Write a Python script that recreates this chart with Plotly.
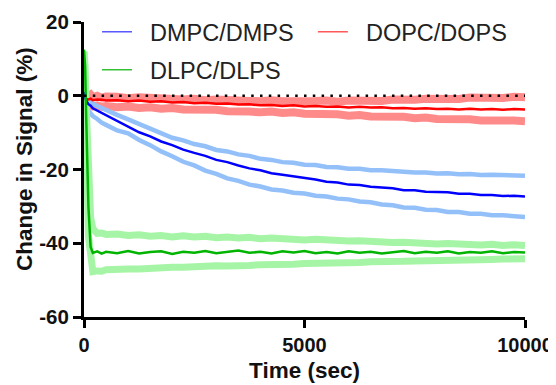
import plotly.graph_objects as go

time_s = [0, 25, 50, 100, 150, 200, 300, 400, 500, 750, 1000, 1250, 1500, 1750, 2000, 2250, 2500, 2750,
          3000, 3250, 3500, 3750, 4000, 4250, 4500, 4750, 5000, 5250, 5500, 5750, 6000, 6250, 6500, 6750,
          7000, 7250, 7500, 7750, 8000, 8250, 8500, 8750, 9000, 9250, 9500, 9750, 10000]

dmpc_mean = [1.0, -0.5, -1.3, -2.3, -2.7, -3.4, -4.0, -4.6, -5.4, -6.9, -8.2, -9.9, -11.0, -12.4, -13.4, -14.6,
             -15.5, -16.3, -17.4, -18.0, -18.9, -19.7, -20.2, -21.0, -21.4, -21.8, -22.4, -22.7, -23.3, -23.5,
             -24.1, -24.2, -24.7, -24.9, -25.1, -25.6, -25.6, -26.0, -26.1, -26.2, -26.6, -26.6, -26.9, -26.9,
             -27.2, -27.1, -27.3]
dmpc_upper = [3.0, 0.6, -0.6, -1.2, -1.8, -2.2, -2.8, -3.4, -3.9, -5.2, -6.4, -7.6, -9.1, -10.1, -11.4, -12.1,
              -13.1, -13.7, -14.7, -15.1, -15.9, -16.3, -17.1, -17.4, -18.0, -18.2, -18.7, -18.8, -19.3, -19.4,
              -19.8, -19.8, -20.2, -20.2, -20.5, -20.5, -20.8, -20.8, -21.1, -21.0, -21.3, -21.2, -21.5, -21.4,
              -21.6, -21.5, -21.7]
dmpc_lower = [0.0, -2.1, -2.9, -4.1, -4.8, -5.5, -6.3, -7.3, -7.9, -9.4, -10.2, -12.0, -13.4, -15.1, -16.4, -17.9,
              -18.9, -20.3, -21.2, -22.4, -23.1, -24.1, -24.6, -25.4, -25.7, -26.3, -26.5, -27.1, -27.3, -27.9,
              -28.1, -28.7, -28.9, -29.5, -29.7, -30.3, -30.4, -30.9, -31.0, -31.5, -31.5, -32.0, -32.0, -32.4,
              -32.4, -32.8, -32.9]

dopc_mean = [0.5, -0.4, -0.9, -1.0, -0.8, -1.2, -1.0, -1.1, -1.3, -1.2, -1.5, -1.3, -1.6, -1.5, -1.8, -1.7,
             -2.0, -1.9, -2.2, -2.1, -2.4, -2.3, -2.6, -2.5, -2.8, -2.6, -2.9, -2.8, -3.0, -2.9, -3.2, -3.0,
             -3.2, -3.1, -3.4, -3.3, -3.5, -3.4, -3.6, -3.5, -3.7, -3.5, -3.7, -3.6, -3.8, -3.6, -3.7]
dopc_upper = [1.5, 0.6, 0.2, -0.1, 0.3, -0.4, 0.0, -0.5, -0.2, -0.3, -0.7, -0.4, -0.6, -0.9, -0.7, -1.0,
              -0.8, -1.2, -1.0, -1.3, -1.1, -1.4, -1.5, -1.2, -1.5, -1.3, -1.6, -1.4, -1.3, -1.6, -1.3, -1.5,
              -1.2, -1.4, -1.0, -1.2, -1.1, -0.8, -1.0, -0.7, -0.9, -0.5, -0.7, -0.4, -0.6, -0.3, -0.4]
dopc_lower = [0.5, -1.2, -2.0, -2.6, -2.4, -2.9, -2.6, -3.0, -2.8, -3.1, -2.9, -3.3, -3.1, -3.5, -3.3, -3.7,
              -3.6, -3.9, -3.8, -4.2, -4.0, -4.3, -4.5, -4.3, -4.7, -4.5, -4.9, -4.8, -5.1, -5.0, -5.4, -5.2,
              -5.6, -5.5, -5.8, -5.7, -6.1, -5.9, -6.3, -6.2, -6.5, -6.4, -6.7, -6.6, -6.9, -6.7, -6.9]

dlpc_mean = [12.5, 8.0, -6.0, -30.0, -41.0, -42.6, -42.2, -42.8, -42.3, -42.7, -42.1, -42.8, -42.4, -42.2, -42.9,
             -42.3, -42.6, -42.1, -42.7, -42.4, -42.0, -42.6, -42.3, -42.8, -42.2, -42.5, -42.1, -42.7, -42.4,
             -42.8, -42.2, -42.6, -42.3, -42.8, -42.4, -42.1, -42.7, -42.3, -42.6, -42.2, -42.8, -42.4, -42.6,
             -42.2, -42.7, -42.4, -42.5]
dlpc_upper = [12.0, 8.0, -3.0, -25.0, -33.0, -36.0, -37.3, -37.2, -37.6, -37.5, -37.9, -37.7, -38.1, -37.9, -38.3,
              -38.0, -38.3, -38.1, -38.5, -38.3, -38.6, -38.4, -38.8, -38.6, -38.9, -38.8, -39.1, -38.9, -39.2,
              -39.1, -39.4, -39.3, -39.6, -39.5, -39.8, -39.7, -40.0, -39.9, -40.2, -40.1, -40.3, -40.2, -40.5,
              -40.3, -40.6, -40.4, -40.6]
dlpc_lower = [12.0, 5.0, -12.0, -38.0, -46.0, -47.7, -47.5, -47.6, -47.2, -47.3, -47.0, -47.0, -46.7, -46.8, -46.5,
              -46.5, -46.3, -46.4, -46.1, -46.2, -45.9, -46.0, -45.8, -45.9, -45.6, -45.7, -45.5, -45.5, -45.3,
              -45.4, -45.2, -45.2, -45.0, -45.1, -44.9, -44.9, -44.8, -44.8, -44.6, -44.7, -44.5, -44.5, -44.4,
              -44.4, -44.3, -44.3, -44.2]

baseline_x = [0, 10000]
baseline_y = [0, 0]

series_names = ["DMPC/DMPS", "DOPC/DOPS", "DLPC/DLPS"]
x_ticks = [0, 5000, 10000]
y_ticks = [-60, -40, -20, 0, 20]

LIGHT_BLUE = "#94C0FA"
LIGHT_RED = "#FF8A8A"
LIGHT_GREEN = "#A6F5A6"

fig = go.Figure()

def band(y, color, width):
    fig.add_trace(go.Scatter(x=time_s, y=y, mode="lines", line=dict(color=color, width=width),
                             showlegend=False, hoverinfo="skip"))

band(dopc_upper, LIGHT_RED, 8)
band(dopc_lower, LIGHT_RED, 8)
band(dmpc_upper, LIGHT_BLUE, 4.5)
band(dmpc_lower, LIGHT_BLUE, 4.5)
band(dlpc_upper, LIGHT_GREEN, 7)
band(dlpc_lower, LIGHT_GREEN, 7)
band(dopc_mean, "#FF0000", 2.5)
band(dmpc_mean, "#0000FF", 2.5)
band(dlpc_mean, "#00B400", 2.5)

fig.add_trace(go.Scatter(x=baseline_x, y=baseline_y, mode="lines",
                         line=dict(color="black", width=2.5, dash="2.5px,6.3px"),
                         showlegend=False, hoverinfo="skip"))

legend_colors = ["#5A5AFF", "#FF5A5A", "#33C033"]
legend_ids = ["legend", "legend2", "legend3"]
for name, col, lid in zip(series_names, legend_colors, legend_ids):
    fig.add_trace(go.Scatter(x=[None], y=[None], mode="lines", name="\u00a0\u00a0" + name,
                             line=dict(color=col, width=1.5), legend=lid))

FONT = "Arial, Liberation Sans, sans-serif"
leg_common = dict(font=dict(family=FONT, size=23.5, color="#222222"), bgcolor="rgba(0,0,0,0)",
                  borderwidth=0, orientation="v", xanchor="left", yanchor="top", itemwidth=30)

# The page body adds an 8px offset, so the figure is 8px smaller and margins shifted.
fig.update_layout(
    width=548, height=377,
    margin=dict(l=76, r=31, t=14, b=68, autoexpand=False),
    paper_bgcolor="white", plot_bgcolor="white",
    legend=dict(x=0.0295, y=1.0407, **leg_common),
    legend2=dict(x=0.519, y=1.0407, **leg_common),
    legend3=dict(x=0.0295, y=0.912, **leg_common),
    xaxis=dict(range=[0, 10000], tickvals=x_ticks, ticktext=[str(v) for v in x_ticks], automargin=False,
               showgrid=False, zeroline=False, showline=True, linecolor="black", linewidth=3,
               ticks="outside", ticklen=8, tickwidth=2.5, tickcolor="black",
               tickfont=dict(family=FONT, size=20, color="#111111", weight="bold"),
               title=dict(text="<b>Time (sec)</b>", font=dict(family=FONT, size=22.5, color="#111111"),
                          standoff=8)),
    yaxis=dict(range=[-60, 20], tickvals=y_ticks, ticktext=[str(v) for v in y_ticks], automargin=False,
               showgrid=False, zeroline=False, showline=True, linecolor="black", linewidth=3,
               ticks="outside", ticklen=8, tickwidth=2.5, tickcolor="black",
               tickfont=dict(family=FONT, size=20.5, color="#111111", weight="bold")),
    annotations=[dict(text="<b>Change in Signal (%)</b>", textangle=-90, xref="paper", yref="paper",
                      x=-0.134, y=0.5356, xanchor="center", yanchor="middle", showarrow=False,
                      font=dict(family=FONT, size=22.5, color="#111111"))],
)

fig.write_html("out.html")
